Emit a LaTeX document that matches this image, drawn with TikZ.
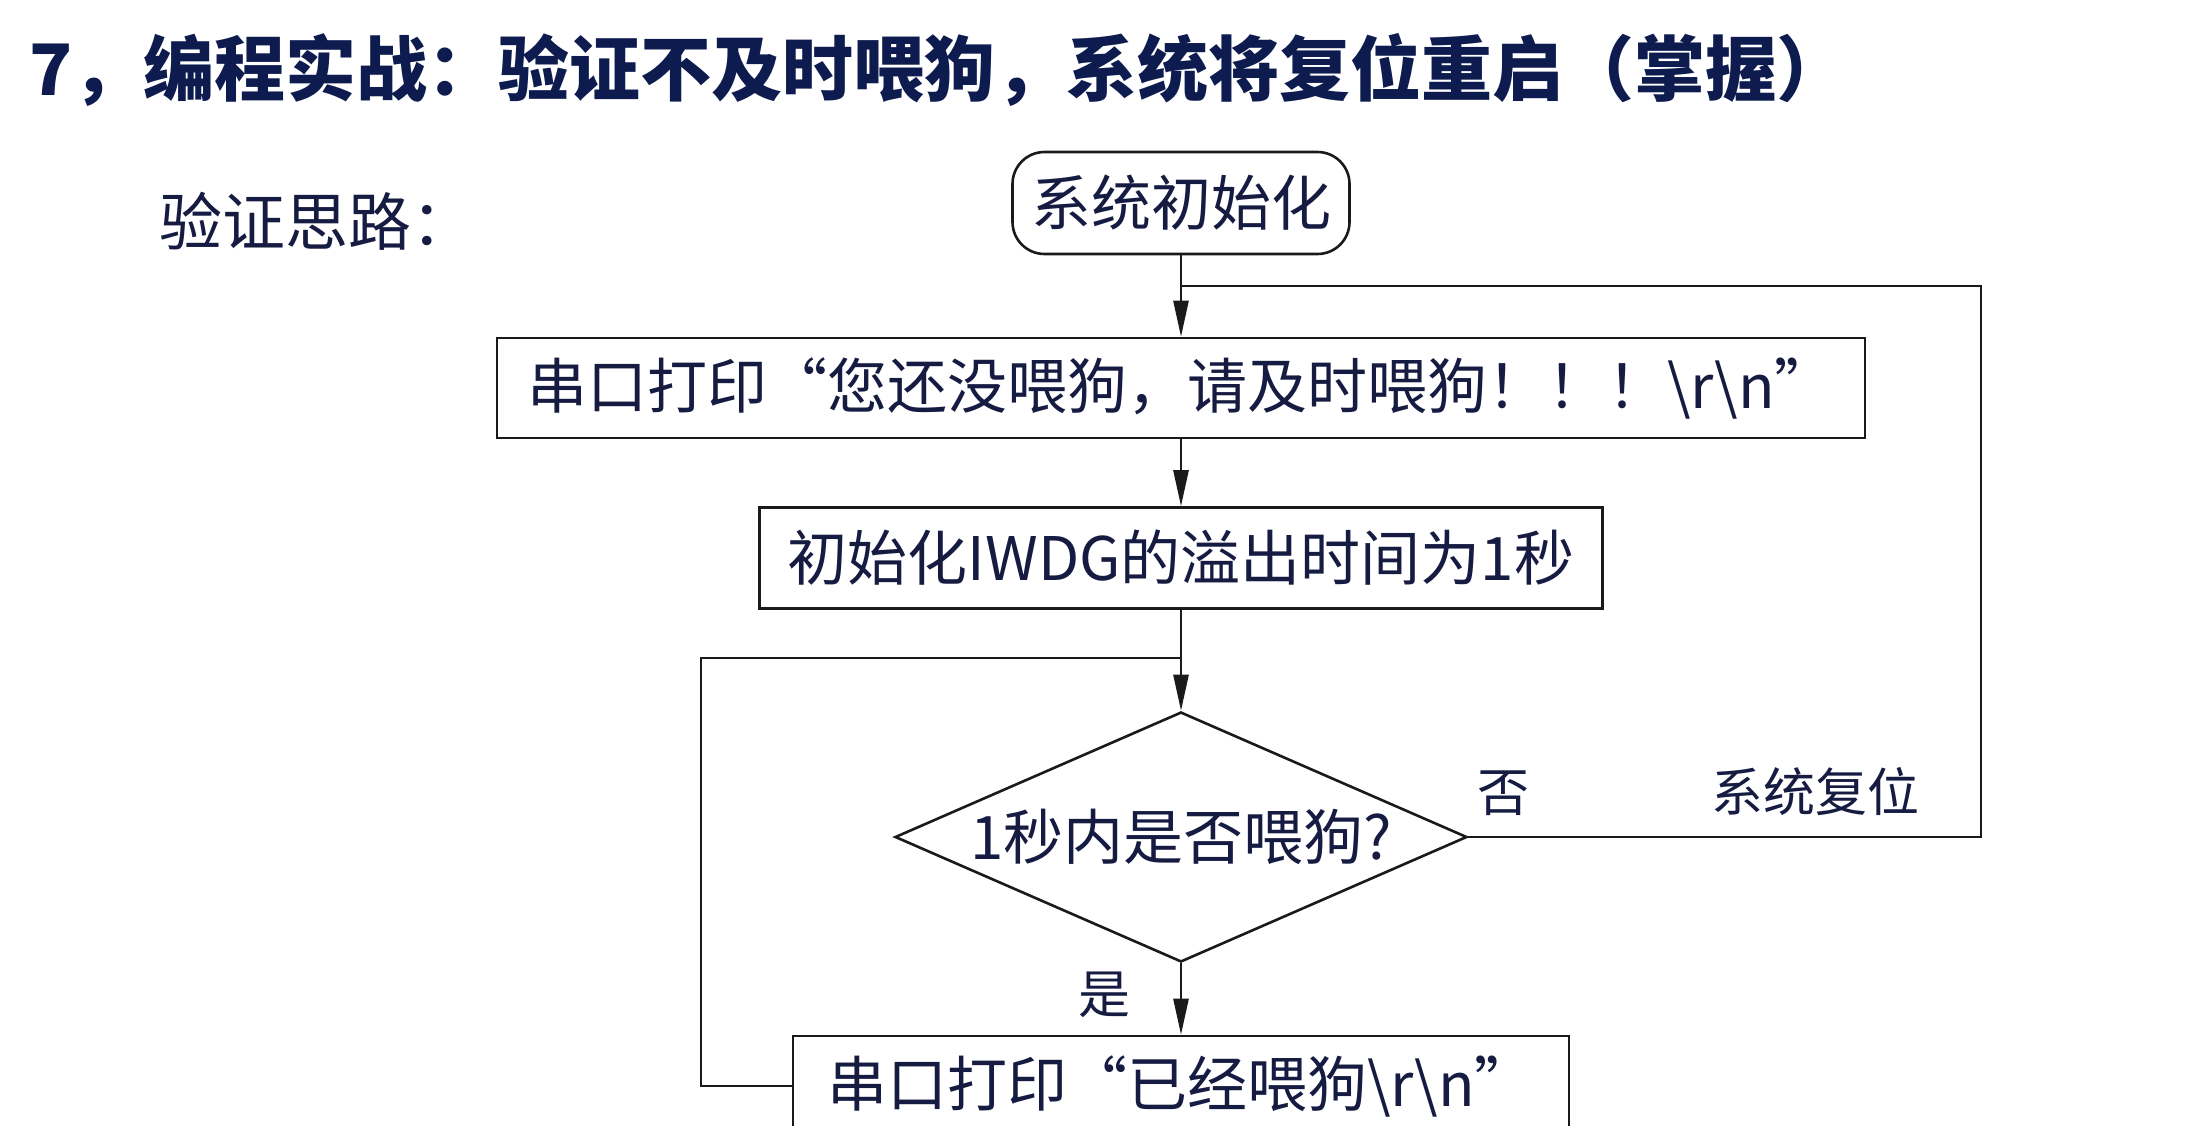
\documentclass[tikz,border=0pt]{standalone}
\usepackage{fontspec}
\newfontfamily\cjk{Noto Sans CJK SC}
\usetikzlibrary{arrows.meta,shapes.geometric}
\definecolor{titleblue}{HTML}{0D1B4F}
\definecolor{txt}{HTML}{161B42}
\definecolor{ln}{HTML}{1A1A1A}
\begin{document}
\begin{tikzpicture}[x=1pt,y=-1pt,
  every node/.style={font=\cjk\fontsize{60}{66}\selectfont, text=txt, inner sep=0pt},
  flowline/.style={line width=2.6pt, draw=ln},
  arr/.style={flowline, -{Triangle[length=36pt,width=15pt]}},
  procbox/.style={draw=ln, line width=2.6pt, rectangle, minimum height=100pt},
  termbox/.style={procbox, rounded corners=32pt},
  decbox/.style={draw=ln, line width=2.6pt, diamond, shape aspect=2.29, minimum width=572pt, minimum height=250pt},
  lbl/.style={font=\cjk\fontsize{52}{56}\selectfont}
]
\useasboundingbox (0,0) rectangle (2211,1125);
\clip (0,0) rectangle (2211,1125);
\fill[white] (0,0) rectangle (2211,1125);

% title and subtitle
\node[anchor=west, font=\cjk\bfseries\fontsize{71}{74}\selectfont, text=titleblue] (title) at (29,70) {7，编程实战：验证不及时喂狗，系统将复位重启（掌握）};
\node[anchor=west, font=\cjk\fontsize{63}{68}\selectfont] (sub) at (159,221) {验证思路：};

% flowchart nodes
\node[termbox, minimum width=337pt, minimum height=102pt] (init) at (1181,203) {系统初始化};
\node[procbox, minimum width=1368pt] (p1) at (1181,388) {串口打印“您还没喂狗，请及时喂狗！！！\textbackslash r\textbackslash n”};
\node[procbox, minimum width=843pt, minimum height=101pt] (iwdg) at (1181,558) {初始化IWDG的溢出时间为1秒};
\node[decbox] (dec) at (1181,837) {1秒内是否喂狗?};
\node[procbox, minimum width=776pt] (p2) at (1181,1086) {串口打印“已经喂狗\textbackslash r\textbackslash n”};

\coordinate (fb) at (1981,286);
\coordinate (lb) at (701,658);

% connectors
\draw[arr] (init.south) -- (p1.north);
\draw[arr] (p1.south) -- (iwdg.north);
\draw[arr] (iwdg.south) -- (dec.north);
\draw[arr] (dec.south) -- (p2.north);
\draw[flowline] (dec.east) -| (fb) -- (fb -| init.south);
\draw[flowline] (p2.west) -| (lb) -- (lb -| dec.north);

% labels
\node[lbl] (no) at (1503,793) {否};
\node[lbl] (reset) at (1815,792) {系统复位};
\node[lbl] (yes) at (1104,995) {是};
\end{tikzpicture}
\end{document}
